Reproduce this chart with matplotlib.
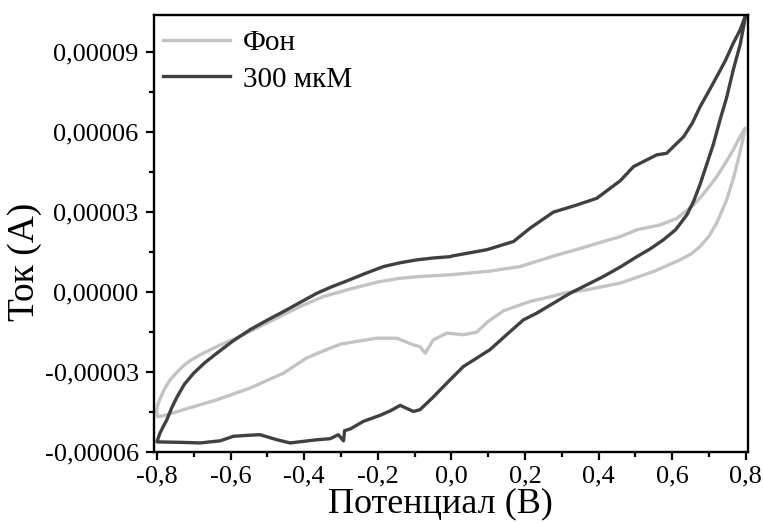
import matplotlib
matplotlib.use("Agg")
import matplotlib.pyplot as plt
import numpy as np
from matplotlib.ticker import MultipleLocator, FuncFormatter

plt.rcParams['font.family'] = ['Liberation Serif', 'DejaVu Serif']

# current values are in units of 1e-5 A, potential in V
fon_v = [0.004, 0.1, 0.187, 0.277, 0.368, 0.413, 0.459, 0.504, 0.567, 0.613, 0.658,
         0.680, 0.703, 0.721, 0.745, 0.766, 0.785, 0.798,
         0.790, 0.780, 0.766, 0.748, 0.721, 0.700, 0.676, 0.650, 0.621, 0.549, 0.459,
         0.368, 0.305, 0.277, 0.214, 0.187, 0.142, 0.10, 0.069, 0.033, -0.012,
         -0.049, -0.071, -0.085, -0.103, -0.148, -0.203, -0.257, -0.3, -0.329,
         -0.393, -0.456, -0.547, -0.637, -0.727, -0.76, -0.785, -0.798,
         -0.801, -0.797, -0.790, -0.778, -0.764, -0.745, -0.727, -0.705, -0.682,
         -0.637, -0.565, -0.501, -0.411, -0.347, -0.274, -0.2, -0.139, -0.085, -0.004]
fon_i = [0.66, 0.78, 0.96, 1.35, 1.71, 1.90, 2.08, 2.34, 2.52, 2.77, 3.27,
         3.6, 4.0, 4.33, 4.85, 5.34, 5.85, 6.15,
         5.6, 5.0, 4.25, 3.46, 2.59, 2.1, 1.71, 1.42, 1.21, 0.77, 0.34,
         0.086, -0.04, -0.15, -0.35, -0.48, -0.70, -1.1, -1.50, -1.60, -1.54,
         -1.79, -2.29, -2.05, -1.98, -1.73, -1.73, -1.85, -1.95, -2.1,
         -2.47, -3.04, -3.60, -4.04, -4.41, -4.55, -4.65, -4.68,
         -4.45, -4.2, -3.95, -3.6, -3.29, -3.0, -2.75, -2.53, -2.35,
         -2.04, -1.60, -1.16, -0.54, -0.165, 0.12, 0.38, 0.52, 0.585, 0.65]

mkm_v = [0.004, 0.096, 0.169, 0.214, 0.277, 0.341, 0.395, 0.459, 0.495, 0.558, 0.585,
         0.631, 0.655, 0.676, 0.700, 0.721, 0.745, 0.766, 0.785, 0.800,
         0.785, 0.766, 0.748, 0.730, 0.712, 0.694, 0.676, 0.658, 0.640, 0.610, 0.576,
         0.540, 0.504, 0.460, 0.413, 0.323, 0.232, 0.196, 0.150, 0.105, 0.033, -0.012,
         -0.05, -0.085, -0.103, -0.139, -0.165, -0.193, -0.239, -0.274, -0.290,
         -0.293, -0.307, -0.329, -0.365, -0.438, -0.474, -0.520, -0.560, -0.592,
         -0.628, -0.682, -0.727, -0.80,
         -0.792, -0.783, -0.773, -0.760, -0.746, -0.725, -0.700, -0.670, -0.637,
         -0.595, -0.547, -0.50, -0.456, -0.41, -0.365, -0.325, -0.284, -0.234,
         -0.184, -0.14, -0.094, -0.05, -0.004]
mkm_i = [1.36, 1.59, 1.90, 2.40, 3.0, 3.27, 3.52, 4.18, 4.71, 5.15, 5.21,
         5.83, 6.35, 6.96, 7.55, 8.08, 8.7, 9.34, 9.85, 10.4,
         9.3, 8.34, 7.3, 6.46, 5.55, 4.80, 4.05, 3.40, 2.90, 2.35, 1.96,
         1.62, 1.33, 0.95, 0.585, -0.04, -0.79, -1.04, -1.6, -2.16, -2.79, -3.41,
         -3.95, -4.41, -4.48, -4.25, -4.45, -4.62, -4.85, -5.13, -5.2,
         -5.58, -5.35, -5.50, -5.54, -5.66, -5.54, -5.35, -5.38, -5.41,
         -5.58, -5.66, -5.64, -5.62,
         -5.3, -5.05, -4.79, -4.35, -3.95, -3.45, -3.04, -2.65, -2.29,
         -1.85, -1.41, -1.05, -0.73, -0.38, -0.04, 0.2, 0.42, 0.7,
         0.96, 1.1, 1.21, 1.28, 1.33]

fig = plt.figure(figsize=(7.63, 5.24), dpi=100)
ax = fig.add_axes([0.2018, 0.1374, 0.7785, 0.834])

ax.plot(fon_v, np.array(fon_i) * 1e-5, color='#c3c3c3', lw=2.4, label='Фон',
        solid_joinstyle='round')
ax.plot(mkm_v, np.array(mkm_i) * 1e-5, color='#404040', lw=2.4, label='300 мкМ',
        solid_joinstyle='round')

ax.set_xlim(-0.808, 0.806)
ax.set_ylim(-0.00006, 0.000104)

ax.xaxis.set_major_locator(MultipleLocator(0.2))
ax.xaxis.set_minor_locator(MultipleLocator(0.1))
ax.yaxis.set_major_locator(MultipleLocator(0.00003))
ax.yaxis.set_minor_locator(MultipleLocator(0.000015))

def fmt(n):
    def f(v, pos):
        s = f"{round(v, n + 2):.{n}f}"
        if s.startswith('-') and float(s) == 0:
            s = s[1:]
        return s.replace('.', ',')
    return f

ax.xaxis.set_major_formatter(FuncFormatter(fmt(1)))
ax.yaxis.set_major_formatter(FuncFormatter(fmt(5)))

ax.tick_params(which='major', direction='out', length=6, width=1.6, labelsize=19)
ax.tick_params(axis='y', which='major', pad=5)
ax.tick_params(which='minor', direction='out', length=3.5, width=1.6)
for s in ax.spines.values():
    s.set_linewidth(1.7)

ax.set_xlabel('Потенциал (В)', fontsize=26, labelpad=0)
ax.xaxis.label.set_x(0.482)
ax.set_ylabel('Ток (А)', fontsize=27, labelpad=2)
ax.yaxis.label.set_y(0.435)

ax.legend(loc='upper left', frameon=False, fontsize=21, handlelength=2.3,
          handletextpad=0.45, labelspacing=0.35, borderaxespad=0.1,
          bbox_to_anchor=(-0.01, 1.0))

fig.savefig('out.png', dpi=100)
